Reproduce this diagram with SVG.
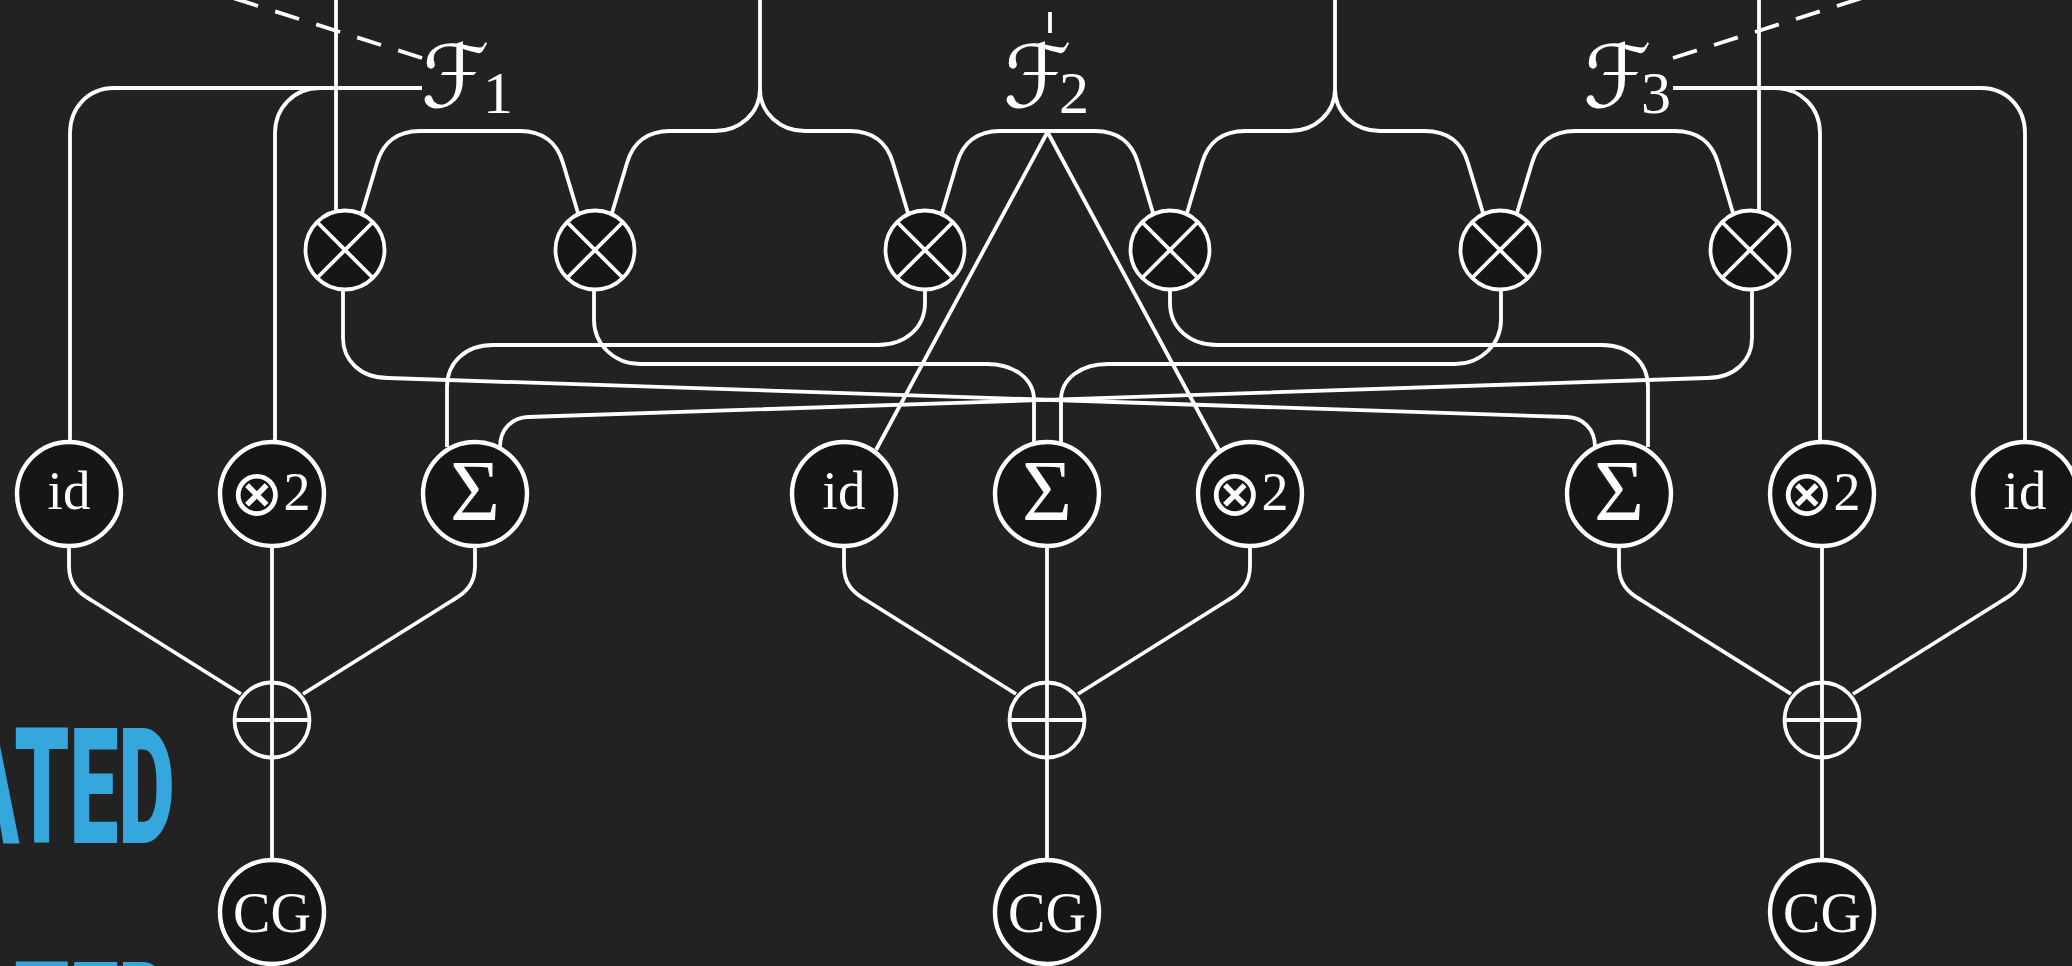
<svg xmlns="http://www.w3.org/2000/svg" width="2072" height="966" viewBox="0 0 2072 966">
<style>
.w{fill:none;stroke:#fff;stroke-width:3.8;stroke-linecap:butt;stroke-linejoin:round}
.d{stroke-dasharray:25 18}
.n{fill:#161616;stroke:#fff;stroke-width:4.4}
.o{fill:none;stroke:#fff;stroke-width:3.8}
.x{stroke:#fff;stroke-width:3.8}
.t{fill:#fff;font-family:"Liberation Serif","DejaVu Sans",serif;text-anchor:middle}
.f{fill:#fff;font-family:"DejaVu Serif","DejaVu Sans",serif}
.s{font-family:"Liberation Serif",serif}
.m{font-family:"DejaVu Sans",sans-serif;font-weight:200}
.b{fill:#35a7dd;font-family:Roboto,"Liberation Sans",sans-serif;font-weight:900}
</style>
<defs>
<g id="otimes"><circle r="39.5" class="n" style="stroke-width:3.8"/><path class="x" d="M-28-28L28 28M28-28L-28 28"/></g>
<g id="oplus"><circle r="37.5" class="o" style="fill:#222"/><path class="x" d="M-37.5 0H37.5M0-37.5V37.5"/></g>
</defs>
<rect width="2072" height="966" fill="#222"/>
<text class="b" transform="matrix(0.55 0 0 1 0 0)" x="-73" y="843" font-size="162" textLength="391" lengthAdjust="spacingAndGlyphs">ATED</text>
<text class="b" transform="matrix(0.55 0 0 1 0 0)" x="-73" y="1077" font-size="162" textLength="391" lengthAdjust="spacingAndGlyphs">ATED</text>
<g id="connectors">
<path class="w d" d="M422 58L170-22"/>
<path class="w d" d="M1673 58L1925-22"/>
<path class="w" d="M1050 33V12"/>
<path class="w" d="M336 0V211"/>
<path class="w" d="M1759 0V211"/>
<path class="w" d="M422 88H114C88 88 70 108 70 133V442"/>
<path class="w" d="M320 88C294 88 275 108 275 133V442"/>
<path class="w" d="M1673 88H1981C2007 88 2025 108 2025 133V442"/>
<path class="w" d="M1775 88C1801 88 1820 108 1820 133V442"/>
<path class="w" d="M362 213L377 163C383 142 398 131 420 131H520C542 131 557 142 563 163L578 213"/>
<path class="w" d="M612 213L627 163C633 142 648 131 670 131H715C740 131 760 113 760 89V0M760 89C760 113 780 131 805 131H850C872 131 887 142 893 163L908 213"/>
<path class="w" d="M942 213L957 163C963 142 978 131 1000 131H1095C1117 131 1132 142 1138 163L1153 213"/>
<path class="w" d="M1483 213L1468 163C1462 142 1447 131 1425 131H1380C1355 131 1335 113 1335 89V0M1335 89C1335 113 1315 131 1290 131H1245C1223 131 1208 142 1202 163L1187 213"/>
<path class="w" d="M1733 213L1718 163C1712 142 1697 131 1675 131H1575C1553 131 1538 142 1532 163L1517 213"/>
<path class="w" d="M876 450L1047.5 132L1219 450"/>
<path class="w" d="M343 289V338C343 360 360 378 388 378L1567 417C1582 417.5 1595 428 1595 447"/>
<path class="w" d="M1752 289V338C1752 360 1735 378 1707 378L528 417C513 417.5 500 428 500 447"/>
<path class="w" d="M594 289V320C594 344 614 364 640 364H987C1013 364 1034 378 1034 400V442"/>
<path class="w" d="M1501 289V320C1501 344 1481 364 1455 364H1108C1082 364 1061 378 1061 400V442"/>
<path class="w" d="M925 289V303C925 328 905 345 878 345H493C466 345 447 362 447 387V447"/>
<path class="w" d="M1170 289V303C1170 328 1190 345 1217 345H1602C1629 345 1648 362 1648 387V447"/>
<path class="w" d="M69 546V566C69 583 77 592 91 600L241 694M475 546V566C475 583 467 592 453 600L303 694M272 546V683M272 757V860"/>
<path class="w" d="M844 546V566C844 583 852 592 866 600L1016 694M1250 546V566C1250 583 1242 592 1228 600L1078 694M1047 546V683M1047 757V860"/>
<path class="w" d="M1619 546V566C1619 583 1627 592 1641 600L1791 694M2025 546V566C2025 583 2017 592 2003 600L1853 694M1822 546V683M1822 757V860"/>
</g>
<g id="label-F1"><text class="f" x="421" y="107" font-size="87">ℱ<tspan class="s" x="483" y="113" font-size="60">1</tspan></text></g>
<g id="label-F2"><text class="f" x="1003" y="107" font-size="87">ℱ<tspan class="s" x="1059" y="113" font-size="60">2</tspan></text></g>
<g id="label-F3"><text class="f" x="1583" y="107" font-size="87">ℱ<tspan class="s" x="1641" y="113" font-size="60">3</tspan></text></g>
<g id="m1"><use href="#otimes" x="345" y="250"/></g>
<g id="m2"><use href="#otimes" x="595" y="250"/></g>
<g id="m3"><use href="#otimes" x="925" y="250"/></g>
<g id="m4"><use href="#otimes" x="1170" y="250"/></g>
<g id="m5"><use href="#otimes" x="1500" y="250"/></g>
<g id="m6"><use href="#otimes" x="1750" y="250"/></g>
<g id="id1"><circle class="n" cx="69" cy="494" r="52"/><text class="t" x="69" y="509" font-size="55">id</text></g>
<g id="sq1"><circle class="n" cx="272" cy="494" r="52"/><text class="t" x="270" y="510" font-size="54"><tspan class="m" font-size="64" dy="5">⊗</tspan><tspan dy="-5">2</tspan></text></g>
<g id="sum1"><circle class="n" cx="475" cy="494" r="52"/><text class="t" x="475" y="520" font-size="86">Σ</text></g>
<g id="id2"><circle class="n" cx="844" cy="494" r="52"/><text class="t" x="844" y="509" font-size="55">id</text></g>
<g id="sum2"><circle class="n" cx="1047" cy="494" r="52"/><text class="t" x="1047" y="520" font-size="86">Σ</text></g>
<g id="sq2"><circle class="n" cx="1250" cy="494" r="52"/><text class="t" x="1248" y="510" font-size="54"><tspan class="m" font-size="64" dy="5">⊗</tspan><tspan dy="-5">2</tspan></text></g>
<g id="sum3"><circle class="n" cx="1619" cy="494" r="52"/><text class="t" x="1619" y="520" font-size="86">Σ</text></g>
<g id="sq3"><circle class="n" cx="1822" cy="494" r="52"/><text class="t" x="1820" y="510" font-size="54"><tspan class="m" font-size="64" dy="5">⊗</tspan><tspan dy="-5">2</tspan></text></g>
<g id="id3"><circle class="n" cx="2025" cy="494" r="52"/><text class="t" x="2025" y="509" font-size="55">id</text></g>
<g id="p1"><use href="#oplus" x="272" y="720"/></g>
<g id="p2"><use href="#oplus" x="1047" y="720"/></g>
<g id="p3"><use href="#oplus" x="1822" y="720"/></g>
<g id="cg1"><circle class="n" cx="272" cy="912" r="52"/><text class="t" x="272" y="932" font-size="56">CG</text></g>
<g id="cg2"><circle class="n" cx="1047" cy="912" r="52"/><text class="t" x="1047" y="932" font-size="56">CG</text></g>
<g id="cg3"><circle class="n" cx="1822" cy="912" r="52"/><text class="t" x="1822" y="932" font-size="56">CG</text></g>
</svg>
